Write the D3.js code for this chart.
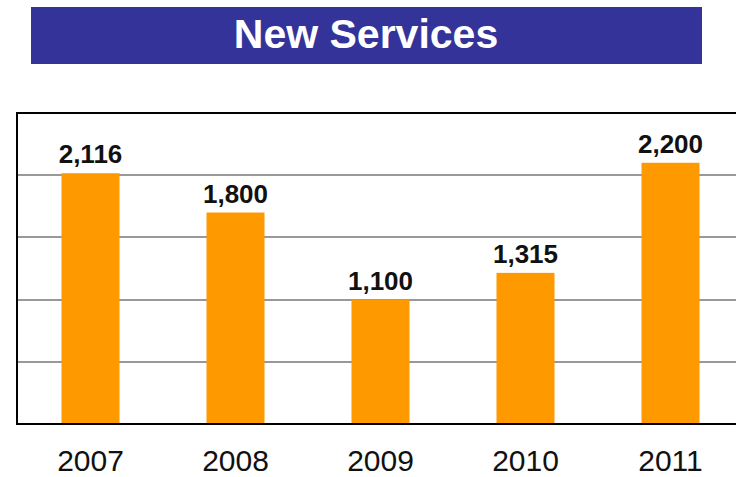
<!DOCTYPE html>
<html>
<head>
<meta charset="utf-8">
<script src="https://cdn.jsdelivr.net/npm/d3@7"></script>
<style>
  body { margin: 0; background: #fff; }
  text { font-family: "Liberation Sans", Arial, sans-serif; }
</style>
</head>
<body>
<script>
var years = ['2007', '2008', '2009', '2010', '2011'];
var services = [2116, 1800, 1100, 1315, 2200];
var gridTicks = [600, 1100, 1600, 2100];

var width = 736, height = 477;
var plotLeft = 18, plotRight = 743, plotTop = 113, plotBottom = 424;

var svg = d3.select('body').append('svg')
    .attr('width', width)
    .attr('height', height);

// title banner
svg.append('rect')
    .attr('x', 31).attr('y', 7)
    .attr('width', 671).attr('height', 57)
    .attr('fill', '#333399');
svg.append('text')
    .attr('x', 366).attr('y', 48)
    .attr('text-anchor', 'middle')
    .attr('fill', '#fff')
    .style('font-size', '41px')
    .style('font-weight', 'bold')
    .text('New Services');

var x = d3.scaleBand()
    .domain(years)
    .range([plotLeft, plotRight])
    .paddingInner(0.6)
    .paddingOuter(0.3);

var y = d3.scaleLinear()
    .domain([100, 2600])
    .range([plotBottom, plotTop]);

// gridlines
svg.selectAll('line.grid')
    .data(gridTicks)
    .enter().append('line')
        .attr('class', 'grid')
        .attr('x1', plotLeft - 1).attr('x2', width)
        .attr('y1', function (d) { return Math.round(y(d)); })
        .attr('y2', function (d) { return Math.round(y(d)); })
        .attr('stroke', '#999')
        .attr('stroke-width', 2);

// bars
svg.selectAll('rect.bar')
    .data(services)
    .enter().append('rect')
        .attr('class', 'bar')
        .attr('x', function (d, i) { return x(years[i]); })
        .attr('y', function (d) { return y(d); })
        .attr('width', x.bandwidth())
        .attr('height', function (d) { return plotBottom - y(d); })
        .attr('fill', '#ff9900');

// frame: left, top, bottom
svg.append('path')
    .attr('d', 'M' + width + ',' + plotTop + 'H' + (plotLeft - 1) + 'V' + plotBottom + 'H' + width)
    .attr('fill', 'none')
    .attr('stroke', '#000')
    .attr('stroke-width', 2);

// value labels
svg.selectAll('text.val')
    .data(services)
    .enter().append('text')
        .attr('class', 'val')
        .attr('x', function (d, i) { return x(years[i]) + x.bandwidth() / 2; })
        .attr('y', function (d) { return y(d) - 10; })
        .attr('text-anchor', 'middle')
        .style('font-size', '26px')
        .style('font-weight', 'bold')
        .attr('fill', '#111')
        .text(d3.format(','));

// x axis labels
var xAxis = d3.axisBottom(x).tickSize(0).tickPadding(26);
var gx = svg.append('g')
    .attr('transform', 'translate(0,' + plotBottom + ')')
    .call(xAxis);
gx.select('.domain').remove();
gx.selectAll('text')
    .style('font-size', '30px')
    .style('font-family', '"Liberation Sans", Arial, sans-serif')
    .attr('fill', '#111');
</script>
</body>
</html>
